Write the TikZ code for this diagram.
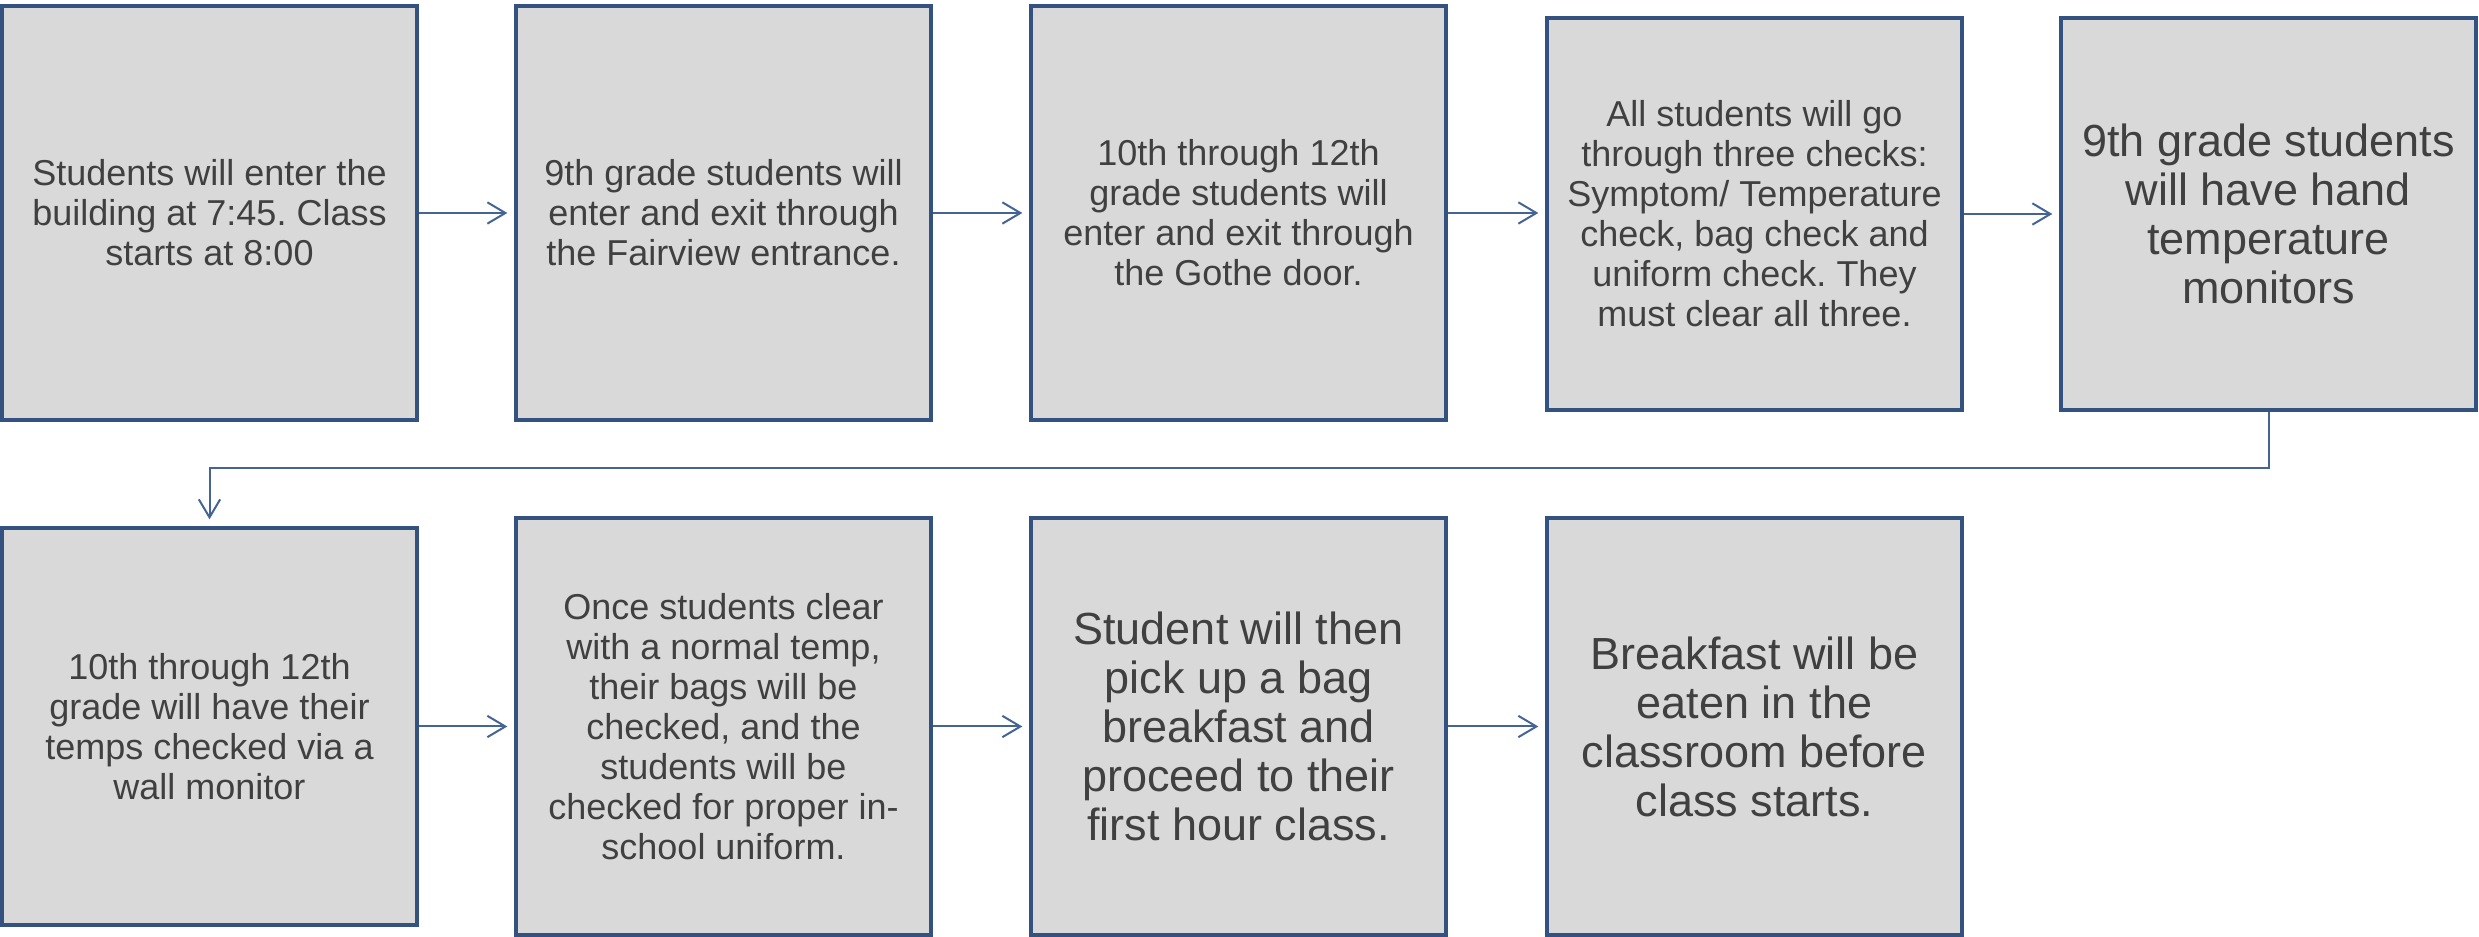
\documentclass[tikz,border=0pt]{standalone}
\usepackage{fontspec}
\setmainfont{Liberation Sans}
\usetikzlibrary{arrows.meta}
\frenchspacing
\definecolor{boxborder}{RGB}{52,82,128}
\definecolor{boxfill}{RGB}{217,217,217}
\definecolor{arrowcol}{RGB}{68,100,150}
\definecolor{txt}{RGB}{64,64,64}
\begin{document}
\begin{tikzpicture}[x=0.3pt,y=-0.3pt,
  stepbox/.style={draw=boxborder, fill=boxfill, line width=1.2pt, inner sep=0pt,
    align=center, text=txt, font=\fontsize{10.8}{12}\selectfont, minimum width=124.5pt},
  bigtext/.style={font=\fontsize{13.5}{14.7}\selectfont},
  flow/.style={draw=arrowcol, line width=0.6pt, -{Straight Barb[length=5.4pt,width=6.4pt]}, shorten >=2pt}]
\useasboundingbox (0,0) rectangle (2479,937);
% row 1
\node[stepbox, minimum height=124.2pt] (b1) at (209.5,213) {Students will enter the\\building at 7:45. Class\\starts at 8:00};
\node[stepbox, minimum height=124.2pt] (b2) at (723.5,213) {9th grade students will\\enter and exit through\\the Fairview entrance.};
\node[stepbox, minimum height=124.2pt] (b3) at (1238.5,213) {10th through 12th\\grade students will\\enter and exit through\\the Gothe door.};
\node[stepbox, minimum height=117.6pt] (b4) at (1754.5,214) {All students will go\\through three checks:\\Symptom/ Temperature\\check, bag check and\\uniform check. They\\must clear all three.};
\node[stepbox, bigtext, minimum height=117.6pt] (b5) at (2268.5,214) {9th grade students\\will have hand\\temperature\\monitors};
% row 2
\node[stepbox, minimum height=119.1pt] (b6) at (209.5,726.5) {10th through 12th\\grade will have their\\temps checked via a\\wall monitor};
\node[stepbox, minimum height=125.1pt] (b7) at (723.5,726.5) {Once students clear\\with a normal temp,\\their bags will be\\checked, and the\\students will be\\checked for proper in-\\school uniform.};
\node[stepbox, bigtext, minimum height=125.1pt] (b8) at (1238.5,726.5) {Student will then\\pick up a bag\\breakfast and\\proceed to their\\first hour class.};
\node[stepbox, bigtext, minimum height=125.1pt] (b9) at (1754.5,726.5) {Breakfast will be\\eaten in the\\classroom before\\class starts.};
% connectors
\draw[flow] (b1.east) -- (b1.east -| b2.west);
\draw[flow] (b2.east) -- (b2.east -| b3.west);
\draw[flow] (b3.east) -- (b3.east -| b4.west);
\draw[flow] (b4.east) -- (b4.east -| b5.west);
\coordinate (turn) at (0,468);
\draw[flow] (b5.south) -- (b5.south |- turn) -| (b6.north);
\draw[flow] (b6.east) -- (b6.east -| b7.west);
\draw[flow] (b7.east) -- (b7.east -| b8.west);
\draw[flow] (b8.east) -- (b8.east -| b9.west);
\end{tikzpicture}
\end{document}
